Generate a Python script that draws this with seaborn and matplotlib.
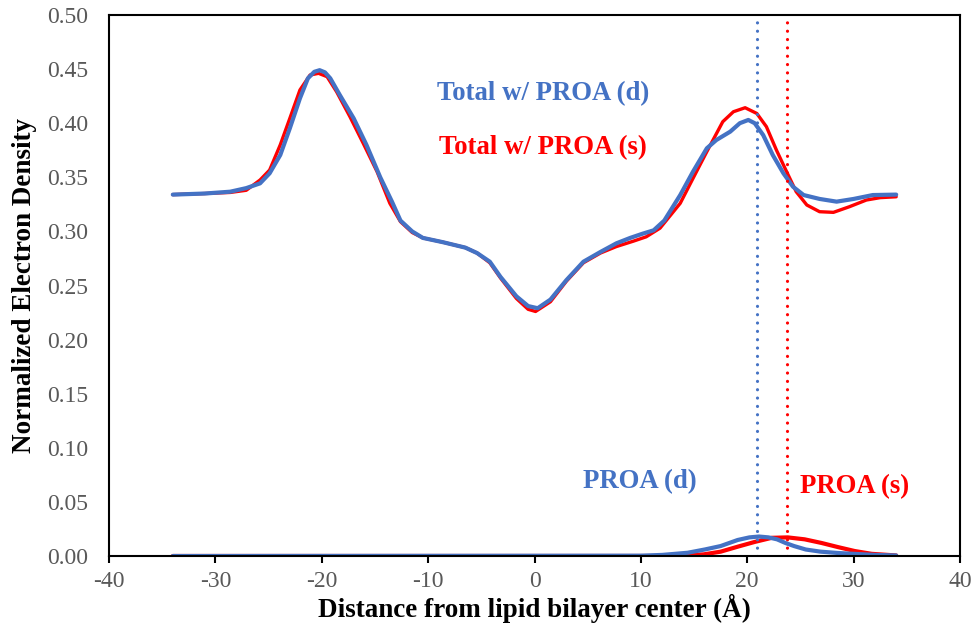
import matplotlib
matplotlib.use("Agg")
import matplotlib.pyplot as plt
import seaborn as sns

# ---- data ----
total_d_x = [-34, -31, -28.6, -27.1, -25.8, -24.9, -23.9, -23.0, -22.05, -21.3,
             -20.7, -20.2, -19.7, -19.2, -18.3, -17.0, -15.8, -14.5, -13.4, -12.6,
             -11.5, -10.5, -8.6, -6.5, -5.4, -4.2, -3.2, -1.7, -0.6, 0.3,
             1.5, 3.0, 4.6, 6.2, 7.7, 9.0, 10.2, 11.2, 12.2, 13.7,
             14.9, 16.2, 17.1, 18.4, 19.3, 20.1, 20.7, 21.5, 22.4, 23.4,
             24.3, 25.3, 26.8, 28.4, 30.0, 31.8, 34.0]
total_d_y = [0.334, 0.335, 0.3367, 0.340, 0.3444, 0.3537, 0.3706, 0.3953, 0.423, 0.4415,
             0.4475, 0.449, 0.447, 0.4415, 0.426, 0.4045, 0.380, 0.350, 0.3275, 0.310,
             0.300, 0.294, 0.290, 0.285, 0.280, 0.272, 0.258, 0.240, 0.231, 0.229,
             0.237, 0.255, 0.272, 0.281, 0.289, 0.294, 0.298, 0.301, 0.310, 0.3336,
             0.3552, 0.3768, 0.3845, 0.3922, 0.400, 0.403, 0.400, 0.389, 0.3706, 0.3537,
             0.3413, 0.3336, 0.330, 0.3275, 0.330, 0.3336, 0.334]

total_s_x = [-34, -31, -28.6, -27.1, -25.8, -24.9, -23.9, -23.0, -22.05, -21.1,
             -20.3, -19.5, -18.6, -17.35, -16.1, -14.8, -13.6, -12.6, -11.5, -10.5,
             -8.6, -6.5, -5.4, -4.2, -3.2, -1.7, -0.6, 0.1, 1.5, 3.0,
             4.6, 6.2, 7.7, 9.3, 10.5, 11.8, 13.7, 14.9, 16.2, 17.7,
             18.7, 19.8, 20.9, 21.8, 22.75, 23.7, 24.6, 25.6, 26.8, 28.1,
             29.6, 31.2, 32.5, 34.0]
total_s_y = [0.334, 0.335, 0.336, 0.338, 0.3475, 0.3567, 0.380, 0.4045, 0.4307, 0.4445,
             0.4461, 0.443, 0.429, 0.406, 0.3814, 0.3552, 0.326, 0.309, 0.299, 0.294,
             0.290, 0.285, 0.280, 0.271, 0.257, 0.238, 0.228, 0.226, 0.235, 0.254,
             0.271, 0.280, 0.286, 0.291, 0.295, 0.303, 0.326, 0.349, 0.3737, 0.4014,
             0.4106, 0.4143, 0.409, 0.3968, 0.375, 0.3552, 0.3367, 0.3244, 0.3182, 0.3176,
             0.3228, 0.329, 0.3312, 0.332]

proa_d_x = [-34, 10, 12, 14.4, 16, 17.5, 19.1, 20.2, 21.1, 22, 22.8, 23.6, 24.4,
            25.5, 26.9, 28.5, 30, 32, 34]
proa_d_y = [0.0, 0.0003, 0.001, 0.003, 0.006, 0.0092, 0.0148, 0.0172, 0.018, 0.0172,
            0.0154, 0.012, 0.0092, 0.006, 0.004, 0.0028, 0.002, 0.001, 0.0005]

proa_s_x = [-34, 12, 14, 15.9, 17.5, 19.1, 20.7, 22.3, 23.8, 25.4, 27.0, 28.5,
            30.1, 31.7, 34]
proa_s_y = [0.0, 0.0, 0.0005, 0.0015, 0.004, 0.0086, 0.013, 0.0168, 0.0172, 0.0154,
            0.012, 0.0083, 0.0046, 0.002, 0.0005]

peak_d_x = 20.9
peak_s_x = 23.7

x_ticks = [-40, -30, -20, -10, 0, 10, 20, 30, 40]
y_ticks = [0.00, 0.05, 0.10, 0.15, 0.20, 0.25, 0.30, 0.35, 0.40, 0.45, 0.50]

BLUE = "#4472C4"
RED = "#FF0000"
GREY = "#595959"

sns.set_theme(style="white")
plt.rcParams["font.family"] = ["Liberation Serif", "DejaVu Serif"]

fig = plt.figure(figsize=(9.74, 6.25), dpi=100)
ax = fig.add_axes([109 / 974, 1 - 556 / 625, (960 - 109) / 974, (556 - 15) / 625])

sns.lineplot(x=total_s_x, y=total_s_y, ax=ax, color=RED, linewidth=2.4, sort=False)
sns.lineplot(x=total_d_x, y=total_d_y, ax=ax, color=BLUE, linewidth=3.0, sort=False)
sns.lineplot(x=proa_s_x, y=proa_s_y, ax=ax, color=RED, linewidth=3.0, sort=False)
sns.lineplot(x=proa_d_x, y=proa_d_y, ax=ax, color=BLUE, linewidth=3.0, sort=False)

for lx, c in ((peak_d_x, BLUE), (peak_s_x, RED)):
    ax.axvline(lx, color=c, linestyle=(0, (0.01, 2.6)), linewidth=2.3,
               dash_capstyle="round")

ax.set_xlim(-40, 40)
ax.set_ylim(0, 0.5)
ax.set_xticks(x_ticks)
ax.set_yticks(y_ticks)
ax.set_xticklabels([f"{v:d}" for v in x_ticks])
ax.set_yticklabels([f"{v:.2f}" for v in y_ticks])

for s in ax.spines.values():
    s.set_visible(True)
    s.set_color("black")
    s.set_linewidth(1.5)

ax.tick_params(axis="x", direction="out", length=5, width=1.5, color="black",
               labelsize=17, labelcolor=GREY, pad=6, bottom=True)
ax.tick_params(axis="y", length=0, labelsize=17, labelcolor=GREY, pad=15, left=True)
ax.grid(False)

ax.set_xlabel("Distance from lipid bilayer center (Å)", fontsize=19.5, fontweight="bold",
              color="black", labelpad=1)
ax.set_ylabel("Normalized Electron Density", fontsize=19.5, fontweight="bold",
              color="black", labelpad=7)

ax.text(0.8, 0.427, "Total w/ PROA (d)", color=BLUE, fontsize=19.3, fontweight="bold",
        ha="center", va="center")
ax.text(0.8, 0.377, "Total w/ PROA (s)", color=RED, fontsize=19.3, fontweight="bold",
        ha="center", va="center")
ax.text(9.9, 0.0684, "PROA (d)", color=BLUE, fontsize=19.3, fontweight="bold",
        ha="center", va="center")
ax.text(30.1, 0.0638, "PROA (s)", color=RED, fontsize=19.3, fontweight="bold",
        ha="center", va="center")

fig.savefig("out.png", dpi=100)
